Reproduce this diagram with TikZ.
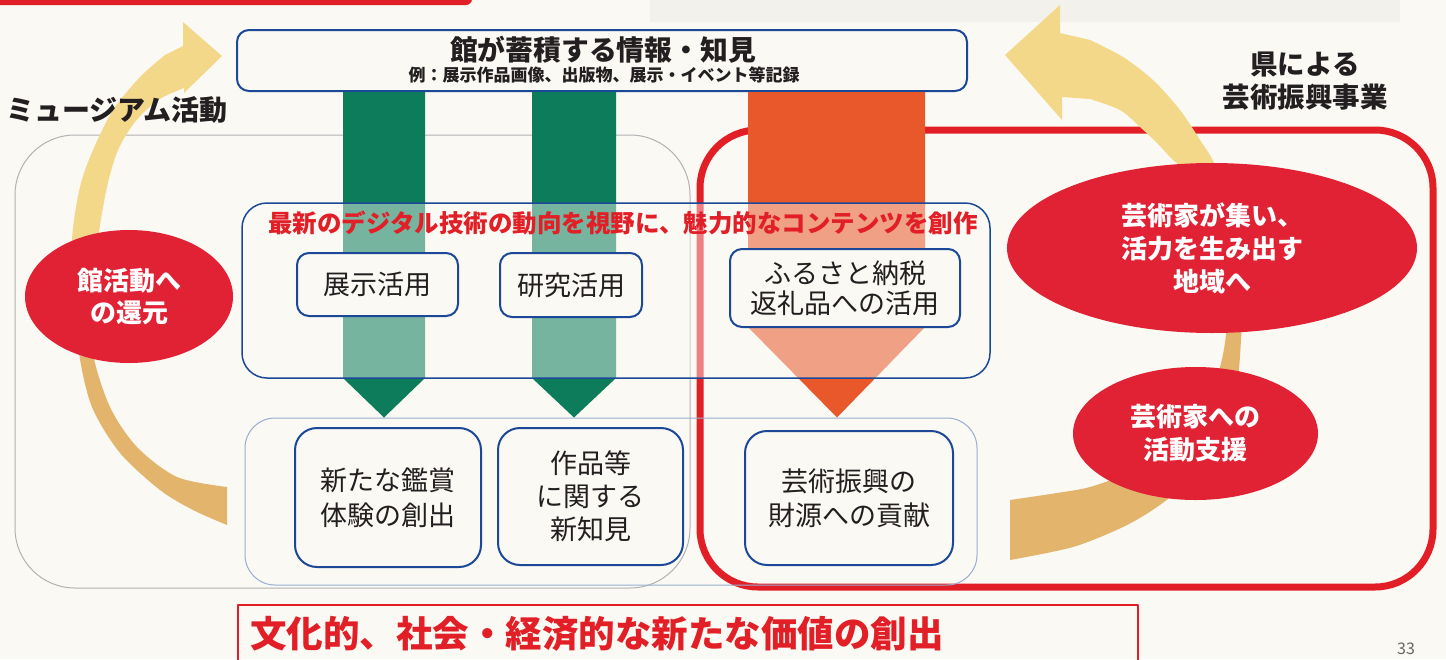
\documentclass[tikz,border=0pt]{standalone}
\usepackage{fontspec}
\setmainfont{Noto Sans CJK JP}
\usetikzlibrary{shapes.geometric}
\definecolor{paper}{RGB}{250,249,243}
\definecolor{framered}{RGB}{226,30,38}
\definecolor{bubblered}{RGB}{225,33,52}
\definecolor{boxblue}{RGB}{28,72,152}
\definecolor{deepgreen}{RGB}{12,124,90}
\definecolor{flameorange}{RGB}{232,88,42}
\definecolor{sunyellow}{RGB}{244,216,138}
\definecolor{sandtan}{RGB}{226,180,108}
\definecolor{ink}{RGB}{35,31,32}
\definecolor{shadowgray}{RGB}{242,241,236}
\tikzset{
diagram/.style={x=1pt,y=-1pt,line join=round},
panel/.style={draw=#1,line width=1pt,inner sep=0pt},
infobox/.style={draw=boxblue,line width=2pt,fill=paper,rounded corners=12pt,
inner sep=0pt,align=center,text=ink,font=\fontsize{27}{30}\selectfont},
result box/.style={infobox,rounded corners=22pt},
bubble/.style={ellipse,fill=bubblered,text=white,inner sep=0pt,align=center,
font=\bfseries\fontsize{26}{32}\selectfont},
heading/.style={text=ink,inner sep=0pt,align=center,
font=\bfseries\fontsize{27.5}{33}\selectfont},
}

\begin{document}
\begin{tikzpicture}[diagram]
\fill[paper] (0,0) rectangle (1446,659);
\useasboundingbox (0,0) rectangle (1446,659);
\fill[framered,rounded corners=6pt] (-10,-10) rectangle (472,5);
\fill[shadowgray] (650,-5) rectangle (1400,22);

% frames
\node[panel=black!30,rounded corners=60pt,minimum width=675pt,minimum height=453pt] (museum) at (352.5,361.5) {};
\node[draw=framered,line width=7pt,rounded corners=58pt,minimum width=733pt,minimum height=457pt] (prefecture) at (1066.5,358.5) {};
\node[panel=boxblue!45,rounded corners=30pt,minimum width=732pt,minimum height=167pt] (outcome) at (611,501.5) {};

\node[panel=boxblue,line width=2pt,rounded corners=12pt,minimum width=730pt,minimum height=61pt] (title) at (602,60.5) {};
\node[heading,font=\bfseries\fontsize{27.8}{30}\selectfont] (titletext) at (603,50) {館が蓄積する情報・知見};
\node[heading,font=\bfseries\fontsize{17}{20}\selectfont] (titlenote) at (604,75) {例：展示作品画像、出版物、展示・イベント等記録};

% block arrows
\fill[deepgreen] (343,0 |- title.south) -- (425,0 |- title.south) -- (425,378) -- (384,0 |- outcome.north) -- (343,378) -- cycle;
\fill[deepgreen] (532,0 |- title.south) -- (616,0 |- title.south) -- (616,378) -- (574,0 |- outcome.north) -- (532,378) -- cycle;
\fill[flameorange] (748,0 |- title.south) -- (925,0 |- title.south) -- (925,327) -- (837,0 |- outcome.north) -- (748,327) -- cycle;

\node[panel=boxblue,line width=1.5pt,rounded corners=25pt,fill=paper,fill opacity=0.45,minimum width=748pt,minimum height=175pt] (creation) at (616,290.5) {};
\node[text=framered,inner sep=0pt,font=\bfseries\fontsize{24.5}{26}\selectfont] (creationtext) at (623,223) {最新のデジタル技術の動向を視野に、魅力的なコンテンツを創作};

\node[infobox,minimum width=161pt,minimum height=63pt] (exhibit) at (377.5,284.5) {展示活用};
\node[infobox,minimum width=142pt,minimum height=64pt] (research) at (571,285) {研究活用};
\node[infobox,minimum width=230pt,minimum height=78pt] (furusato) at (845,288) {ふるさと納税\\返礼品への活用};

\node[result box,minimum width=186pt,minimum height=139pt,font=\fontsize{27}{35}\selectfont] (experience) at (388,497.5) {新たな鑑賞\\体験の創出};
\node[result box,minimum width=185pt,minimum height=137pt,font=\fontsize{27}{33}\selectfont] (knowledge) at (590.5,496.5) {作品等\\に関する\\新知見};
\node[result box,minimum width=208pt,minimum height=134pt,font=\fontsize{27}{34}\selectfont] (funding) at (849,498) {芸術振興の\\財源への貢献};

% curved arrows
\fill[sandtan] plot[smooth] coordinates {(76,300) (79,353) (92,407) (120,453) (160,490) (193,510) (227,525)}
  -- plot[smooth] coordinates {(227,487) (177,477) (137,447) (110,407) (93,353) (94,300)} -- cycle;
\fill[sunyellow] plot[smooth] coordinates {(94,300) (98,240) (107,187) (118,150) (135,122) (158,100) (184,88)}
  -- (184,93) -- (222,56) -- (183,22) -- (183,46)
  -- plot[smooth] coordinates {(165,55) (140,77) (113,110) (93,150) (80,187) (72,240) (75,300)} -- cycle;
\fill[sunyellow] (1005,55) -- (1060,5) -- (1060,33)
  -- plot[smooth] coordinates {(1090,40) (1123,57) (1153,80) (1180,110) (1200,140) (1215,165) (1228,210) (1236,260)}
  -- plot[smooth] coordinates {(1222,260) (1210,210) (1190,175) (1173,160) (1157,143) (1140,127) (1120,110) (1090,99)}
  -- (1062,97) -- (1062,120) -- cycle;
\fill[sandtan] plot[smooth] coordinates {(1236,250) (1242,300) (1241,340) (1236,390) (1218,440) (1190,480) (1157,507) (1123,527) (1073,547) (1010,560)}
  -- plot[smooth] coordinates {(1010,500) (1057,493) (1090,487) (1130,472) (1170,445) (1205,405) (1220,367) (1226,333) (1224,300) (1222,250)} -- cycle;

\node[bubble,minimum width=208pt,minimum height=133pt] (feedback) at (129,296.5) {館活動へ\\の還元};
\node[bubble,minimum width=410pt,minimum height=170pt,font=\bfseries\fontsize{26}{33}\selectfont] (region) at (1212,248) {芸術家が集い、\\活力を生み出す\\地域へ};
\node[bubble,minimum width=245pt,minimum height=133pt,font=\bfseries\fontsize{26}{33}\selectfont] (support) at (1195.5,433.5) {芸術家への\\活動支援};

\node[heading,font=\bfseries\fontsize{28}{33}\selectfont] (museumlabel) at (117,110) {ミュージアム活動};
\node[heading] (prefecturelabel) at (1305,81) {県による\\芸術振興事業};

\node[panel=framered,line width=2pt,minimum width=900pt,minimum height=90pt,anchor=north west] (value) at (237,604) {};
\node[text=framered,anchor=west,inner sep=0pt,font=\bfseries\fontsize{36.5}{40}\selectfont] (valuetext) at (250,634) {文化的、社会・経済的な新たな価値の創出};
\node[text=black!60,inner sep=0pt,font=\fontsize{16}{18}\selectfont] (pageno) at (1406,649) {33};
\end{tikzpicture}
\end{document}
